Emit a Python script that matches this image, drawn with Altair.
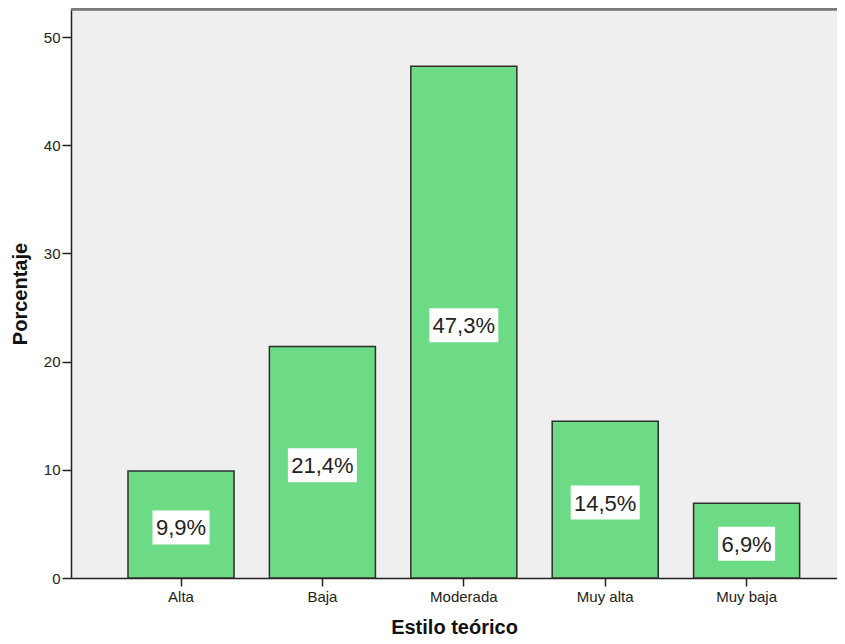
import altair as alt
import pandas as pd

categories = ["Alta", "Baja", "Moderada", "Muy alta", "Muy baja"]
values = [9.9, 21.4, 47.3, 14.5, 6.9]
labels = ["9,9%", "21,4%", "47,3%", "14,5%", "6,9%"]

df = pd.DataFrame({"cat": categories, "value": values, "label": labels})

FONT = "Liberation Sans"
W, H = 766, 569

x = alt.X("cat:N", sort=categories, title="Estilo teórico",
          scale=alt.Scale(paddingInner=0.25, paddingOuter=0.3336, align=0.604),
          axis=alt.Axis(labelAngle=0, tickSize=8, labelPadding=3, titlePadding=13,
                        labelFontSize=15, titleFontSize=20, domainWidth=1.5,
                        tickWidth=1.5))
y = alt.Y("value:Q", title="Porcentaje",
          scale=alt.Scale(domain=[0, 52.6], nice=False),
          axis=alt.Axis(values=[0, 10, 20, 30, 40, 50], tickSize=9, labelPadding=2,
                        titlePadding=13, labelFontSize=15, titleFontSize=20,
                        grid=False, domainWidth=1.5, tickWidth=1.5))

base = alt.Chart(df)

bars = base.mark_bar(color="#6dda85", stroke="#2e2e2e", strokeWidth=1.5).encode(x=x, y=y)

mid = base.transform_calculate(mid="datum.value / 2")
ymid = alt.Y("mid:Q", scale=alt.Scale(domain=[0, 52.6], nice=False))

box4 = mid.transform_filter("length(datum.label) == 4").mark_rect(
    color="white", width=57, height=34, yOffset=3).encode(x=alt.X("cat:N", sort=categories), y=ymid)
box5 = mid.transform_filter("length(datum.label) == 5").mark_rect(
    color="white", width=69, height=34, yOffset=3).encode(x=alt.X("cat:N", sort=categories), y=ymid)
text = mid.mark_text(font=FONT, fontSize=22, color="#222222", baseline="middle",
                     dy=4).encode(x=alt.X("cat:N", sort=categories), y=ymid, text="label:N")

topline = base.mark_rule(color="#7a7a7a", strokeWidth=2.5).encode(
    x=alt.value(0), x2=alt.value(W), y=alt.value(0))

chart = alt.layer(bars, box4, box5, text, topline).properties(
    width=W, height=H,
    autosize=alt.AutoSizeParams(type="none"),
    padding={"left": 63, "top": 1, "right": 0, "bottom": 58},
    background="white",
).configure_view(fill="#efefef", stroke=None).configure_axis(
    labelFont=FONT, titleFont=FONT, labelColor="#222222", titleColor="#111111",
    domainColor="#222222", tickColor="#222222", titleFontWeight="bold",
)

chart.save("out.html", embed_options={"renderer": "svg", "actions": False})
